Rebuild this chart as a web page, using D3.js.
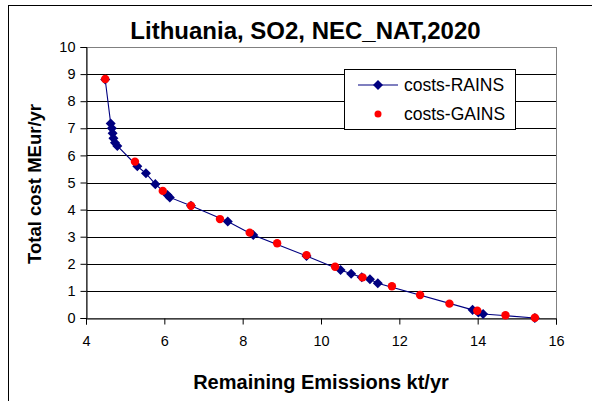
<!DOCTYPE html>
<html><head><meta charset="utf-8">
<script src="https://cdn.jsdelivr.net/npm/d3@7"></script>
<style>body{margin:0;background:#fff;}svg{display:block;font-family:Arial,"Liberation Sans",sans-serif;}</style>
</head><body>
<svg id="c" width="592" height="401"></svg>
<script>
const title = "Lithuania, SO2, NEC_NAT,2020";
const xLabel = "Remaining Emissions kt/yr";
const yLabel = "Total cost MEur/yr";
const seriesNames = ["costs-RAINS", "costs-GAINS"];
const xTicks = [4, 6, 8, 10, 12, 14, 16];
const yTicks = [0,1,2,3,4,5,6,7,8,9,10];
const rainsX = [4.49,4.63,4.66,4.68,4.70,4.74,4.80,5.31,5.53,5.77,6.08,6.14,6.68,7.62,8.27,9.63,10.50,10.77,11.04,11.25,11.45,13.87,14.02,14.14,15.46];
const rainsY = [8.80,7.18,7.00,6.82,6.63,6.47,6.35,5.60,5.34,4.94,4.54,4.45,4.14,3.56,3.06,2.29,1.77,1.63,1.50,1.43,1.28,0.30,0.20,0.15,0.00];
const gainsX = [4.49,5.25,5.96,6.68,7.42,8.18,8.88,9.63,10.36,11.06,11.81,12.53,13.28,13.99,14.71,15.46];
const gainsY = [8.82,5.77,4.69,4.14,3.65,3.15,2.76,2.32,1.89,1.50,1.17,0.85,0.53,0.27,0.10,0.01];

const FONT = "Arial,'Liberation Sans',sans-serif";
const svg = d3.select("#c");
// outer frame (right/bottom edges fall outside the view)
svg.append("rect").attr("x",8.5).attr("y",5.5).attr("width",600).attr("height",420)
  .attr("fill","#fff").attr("stroke","#000").attr("stroke-width",1);

const L=86, R=556, T=47, B=318;
const x = d3.scaleLinear().domain([4,16]).range([L,R]);
const y = d3.scaleLinear().domain([0,10]).range([B,T]);

// gridlines
svg.append("g").selectAll("line").data(yTicks.filter(d=>d>0&&d<10)).join("line")
  .attr("x1",L).attr("x2",R).attr("y1",d=>Math.round(y(d))+0.5).attr("y2",d=>Math.round(y(d))+0.5)
  .attr("stroke","#000").attr("stroke-width",1);
// plot border (top/right gray)
svg.append("rect").attr("x",L+0.5).attr("y",T+0.5).attr("width",R-L).attr("height",B-T)
  .attr("fill","none").attr("stroke","#808080");

// axes
const xa = svg.append("g").attr("transform",`translate(0,${B+0.5})`)
  .call(d3.axisBottom(x).tickValues(xTicks).tickSize(6).tickPadding(11).tickFormat(d3.format("d")));
const ya = svg.append("g").attr("transform",`translate(${L+0.5},0)`)
  .call(d3.axisLeft(y).tickValues(yTicks).tickSize(6).tickPadding(5).tickFormat(d3.format("d")));
[xa,ya].forEach(a=>{
  a.select(".domain").attr("stroke","#000");
  a.selectAll(".tick line").attr("stroke","#000");
  a.selectAll("text").attr("font-size",14.5).attr("font-family",FONT).attr("fill","#000");
});

// RAINS line + diamonds
const rains = rainsX.map((v,i)=>[v,rainsY[i]]);
const gains = gainsX.map((v,i)=>[v,gainsY[i]]);
svg.append("path").datum(rains).attr("fill","none").attr("stroke","#000080").attr("stroke-width",1.1)
  .attr("d",d3.line().x(d=>x(d[0])).y(d=>y(d[1])));
const diamond = d3.symbol().type(d3.symbolDiamond2).size(64);
svg.append("g").selectAll("path").data(rains).join("path")
  .attr("d",diamond).attr("transform",d=>`translate(${x(d[0])},${y(d[1])})`).attr("fill","#000080");
svg.append("g").selectAll("circle").data(gains).join("circle")
  .attr("cx",d=>x(d[0])).attr("cy",d=>y(d[1])).attr("r",4.2).attr("fill","#ff0000");

// title & labels
svg.append("text").attr("x",305.5).attr("y",39).attr("text-anchor","middle")
  .attr("font-size",24).attr("font-weight","bold").text(title);
svg.append("text").attr("x",321).attr("y",389).attr("text-anchor","middle")
  .attr("font-size",20).attr("font-weight","bold").text(xLabel);
svg.append("text").attr("transform","translate(41,184) rotate(-90)").attr("text-anchor","middle")
  .attr("font-size",18.5).attr("font-weight","bold").text(yLabel);

// legend
const lg = svg.append("g");
lg.append("rect").attr("x",344.5).attr("y",69.5).attr("width",171).attr("height",60)
  .attr("fill","#fff").attr("stroke","#000");
lg.append("line").attr("x1",358).attr("x2",398).attr("y1",85).attr("y2",85).attr("stroke","#000080").attr("stroke-width",1.1);
lg.append("path").attr("d",diamond).attr("transform","translate(378,85)").attr("fill","#000080");
lg.append("circle").attr("cx",378).attr("cy",114).attr("r",3.5).attr("fill","#ff0000");
lg.selectAll("text.l").data(seriesNames).join("text").attr("class","l")
  .attr("x",404).attr("y",(d,i)=>91+i*29).attr("font-size",17.5).text(d=>d);
</script>
</body></html>
